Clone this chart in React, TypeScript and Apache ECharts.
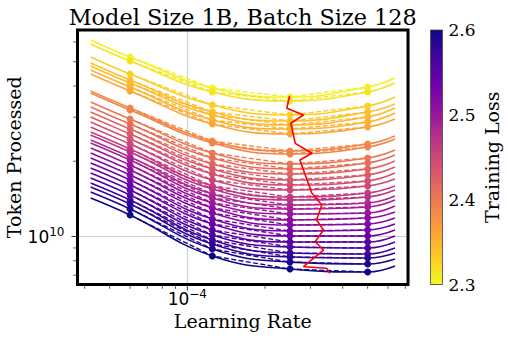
import React, { useEffect, useRef } from "react";
import * as echarts from "echarts";

// Learning-rate positions (x) of the fitted curve ends and of the measured dots
const LR_FIT_START = 4.22e-5;
const LR_DOTS = [6.0e-5, 1.25e-4, 2.5e-4, 5.0e-4];
const LR_FIT_END = 6.38e-4;

// Loss level of every iso-loss curve (colour)
const lossLevels = [
  2.305, 2.315, 2.33, 2.34, 2.345, 2.35, 2.36, 2.385, 2.39, 2.4, 2.41, 2.42, 2.43, 2.44, 2.45,
  2.46, 2.47, 2.48, 2.49, 2.5, 2.51, 2.52, 2.53, 2.54, 2.55, 2.56, 2.57, 2.58, 2.59, 2.6,
];

// Tokens processed (billions) for each curve at each learning rate
const tokensFitStart = [
  61.1, 58.89, 52.24, 49.43, 48.08, 46.34, 44.66, 38.2, 37.5, 34.52, 32.96, 31.47, 30.06, 28.71, 27.41,
  26.18, 25.47, 24.32, 23.66, 22.59, 21.58, 20.6, 19.68, 18.79, 17.95, 17.14, 16.37, 15.78, 15.07, 14.26,
];
const tokensLr6e5 = [
  52.24, 50.34, 44.66, 42.27, 41.12, 39.63, 38.2, 32.66, 32.06, 29.51, 28.18, 26.91, 25.71, 24.55, 23.44,
  22.39, 21.78, 20.8, 20.23, 19.32, 18.45, 17.62, 16.83, 16.07, 15.35, 14.66, 14.0, 13.49, 12.89, 12.19,
];
const tokensLr125e4 = [
  39.27, 37.85, 33.58, 31.47, 30.62, 29.24, 28.18, 24.1, 23.66, 21.58, 20.6, 19.5, 18.62, 17.78, 16.83,
  15.93, 15.49, 14.79, 14.26, 13.62, 13.01, 12.41, 11.74, 11.22, 10.62, 10.14, 9.68, 9.33, 8.91, 8.36,
];
const tokensLr25e4 = [
  36.14, 34.84, 30.62, 28.97, 27.92, 26.91, 25.71, 21.98, 21.38, 19.5, 18.62, 17.78, 16.83, 16.07, 15.35,
  14.39, 14.0, 13.37, 12.89, 12.3, 11.64, 11.12, 10.52, 10.05, 9.5, 9.08, 8.59, 8.28, 7.9, 7.41,
];
const tokensLr5e4 = [
  39.63, 37.85, 33.27, 31.47, 30.06, 28.71, 27.41, 23.44, 22.8, 20.6, 19.68, 18.62, 17.62, 16.68, 15.93,
  14.93, 14.39, 13.62, 13.13, 12.41, 11.85, 11.22, 10.62, 10.05, 9.5, 8.99, 8.51, 8.2, 7.76, 7.21,
];
const tokensFitEnd = [
  43.05, 41.12, 36.14, 33.89, 32.66, 31.19, 29.51, 25.24, 24.55, 22.18, 21.18, 20.04, 18.97, 17.95, 16.98,
  15.93, 15.35, 14.52, 14.0, 13.25, 12.53, 11.85, 11.22, 10.62, 10.05, 9.5, 8.99, 8.59, 8.13, 7.62,
];

// Red line through the optimum learning rate of each curve
const redLr = [
  2.49e-4, 2.43e-4, 2.82e-4, 2.52e-4, 2.62e-4, 3.04e-4, 2.73e-4, 2.82e-4, 3.04e-4, 3.32e-4, 3.17e-4,
  3.37e-4, 3.13e-4, 3.37e-4, 2.82e-4, 3.47e-4, 3.57e-4,
];
const redTokens = [
  36.48, 32.58, 30.62, 28.37, 23.59, 21.52, 20.23, 18.45, 14.89, 13.37, 11.64, 10.62, 9.53, 8.83, 7.57,
  7.46, 7.12,
];

// Axis ranges and ticks
const X_MIN = 3.753e-5;
const X_MAX = 7.166e-4;
const Y_MIN = 6.427e9;
const Y_MAX = 6.699e10;
const xMajorTicks = [1e-4];
const xMinorTicks = [4e-5, 5e-5, 6e-5, 7e-5, 8e-5, 9e-5, 2e-4, 3e-4, 4e-4, 5e-4, 6e-4, 7e-4];
const yMajorTicks = [1e10];
const yMinorTicks = [7e9, 8e9, 9e9, 2e10, 3e10, 4e10, 5e10, 6e10];
const CBAR_MIN = 2.3;
const CBAR_MAX = 2.6;

const PLASMA = [
  "#0d0887", "#41049d", "#6a00a8", "#8f0da4", "#b12a90", "#cc4778",
  "#e16462", "#f2844b", "#fca636", "#fcce25", "#f0f921",
];

function hexToRgb(h: string) {
  const n = parseInt(h.slice(1), 16);
  return [(n >> 16) & 255, (n >> 8) & 255, n & 255];
}
function plasmaColor(t: number) {
  const tt = Math.max(0, Math.min(1, t));
  const p = tt * 10;
  const i = Math.min(9, Math.floor(p));
  const f = p - i;
  const a = hexToRgb(PLASMA[i]);
  const b = hexToRgb(PLASMA[i + 1]);
  const c = a.map((v, k) => Math.round(v + (b[k] - v) * f));
  return `rgb(${c[0]},${c[1]},${c[2]})`;
}
function lossColor(l: number) {
  return plasmaColor((CBAR_MAX - l) / (CBAR_MAX - CBAR_MIN));
}

const SERIF = "DejaVu Serif";
const SANS = "DejaVu Sans";

const GRID = { left: 77.5, top: 30, width: 330.5, height: 254.5 };
const CBAR = { left: 430.5, top: 30, width: 12, height: 254.5 };

function buildOption() {
  const B = 1e9;
  const series: any[] = [];
  lossLevels.forEach((loss, i) => {
    const color = lossColor(loss);
    const dotsTokens = [tokensLr6e5[i], tokensLr125e4[i], tokensLr25e4[i], tokensLr5e4[i]];
    const fitData = [
      [LR_FIT_START, tokensFitStart[i] * B],
      ...LR_DOTS.map((lr, j) => [lr, dotsTokens[j] * B]),
      [LR_FIT_END, tokensFitEnd[i] * B],
    ];
    series.push({
      type: "line",
      data: fitData,
      smooth: 0.45,
      showSymbol: false,
      symbol: "none",
      lineStyle: { color, width: 1.6 },
      silent: true,
      z: 2,
    });
    series.push({
      type: "line",
      data: LR_DOTS.map((lr, j) => [lr, dotsTokens[j] * B]),
      symbol: "circle",
      symbolSize: 7,
      showSymbol: true,
      itemStyle: { color, borderWidth: 0 },
      lineStyle: { color, width: 1.4, type: [5, 2.4] },
      silent: true,
      z: 2,
    });
  });
  series.push({
    type: "line",
    data: redLr.map((lr, k) => [lr, redTokens[k] * B]),
    showSymbol: false,
    symbol: "none",
    lineStyle: { color: "#ff0000", width: 1.6 },
    silent: true,
    z: 3,
  });

  const xTickData = [
    ...xMajorTicks.map((v) => [v, 1e10, 1]),
    ...xMinorTicks.map((v) => [v, 1e10, 0]),
  ];
  const yTickData = [
    ...yMajorTicks.map((v) => [1e-4, v, 1]),
    ...yMinorTicks.map((v) => [1e-4, v, 0]),
  ];
  series.push({
    type: "custom",
    clip: false,
    silent: true,
    z: 4,
    data: xTickData,
    renderItem: (params: any, api: any) => {
      const p = api.coord([api.value(0), api.value(1)]);
      const cs = params.coordSys;
      const yb = cs.y + cs.height + 1.5;
      const major = api.value(2) === 1;
      return {
        type: "line",
        shape: { x1: p[0], y1: yb, x2: p[0], y2: yb + (major ? 4.5 : 2.8) },
        style: { stroke: "#333", lineWidth: major ? 1 : 0.8 },
      };
    },
  });
  series.push({
    type: "custom",
    clip: false,
    silent: true,
    z: 4,
    data: yTickData,
    renderItem: (params: any, api: any) => {
      const p = api.coord([api.value(0), api.value(1)]);
      const cs = params.coordSys;
      const xl = cs.x - 1.5;
      const major = api.value(2) === 1;
      return {
        type: "line",
        shape: { x1: xl, y1: p[1], x2: xl - (major ? 4.5 : 2.8), y2: p[1] },
        style: { stroke: "#333", lineWidth: major ? 1 : 0.8 },
      };
    },
  });

  const rich = {
    m: { fontFamily: SANS, fontSize: 17, lineHeight: 22, color: "#000" },
    s: { fontFamily: SANS, fontSize: 12, lineHeight: 12, verticalAlign: "top", color: "#000" },
  };

  return {
    animation: false,
    backgroundColor: "#ffffff",
    title: {
      text: "Model Size 1B, Batch Size 128",
      left: GRID.left + GRID.width / 2 - 5,
      top: 1,
      textAlign: "center",
      textStyle: { fontFamily: SERIF, fontSize: 22.4, fontWeight: "normal", color: "#000" },
    },
    grid: [
      { ...GRID, show: false, containLabel: false, outerBoundsMode: "none" },
      { ...CBAR, show: false, containLabel: false, outerBoundsMode: "none" },
    ],
    xAxis: [
      {
        type: "log",
        gridIndex: 0,
        logBase: 10,
        min: X_MIN,
        max: X_MAX,
        name: "Learning Rate",
        nameLocation: "middle",
        nameGap: 27,
        nameMoveOverlap: false,
        nameTextStyle: { fontFamily: SERIF, fontSize: 19, color: "#000" },
        axisLine: { show: false },
        axisTick: { show: false },
        splitLine: { show: true, lineStyle: { color: "#d0d0d0", width: 1.2 } },
        axisLabel: {
          showMinLabel: false,
          showMaxLabel: false,
          margin: 3,
          formatter: (v: number) => (Math.abs(Math.log10(v) + 4) < 1e-6 ? "{m|10}{s|\u22124}" : ""),
          rich,
        },
      },
      { type: "value", gridIndex: 1, show: false, min: 0, max: 1 },
    ],
    yAxis: [
      {
        type: "log",
        gridIndex: 0,
        logBase: 10,
        min: Y_MIN,
        max: Y_MAX,
        name: "Token Processed",
        nameLocation: "middle",
        nameGap: 54,
        nameMoveOverlap: false,
        nameTextStyle: { fontFamily: SERIF, fontSize: 19, color: "#000" },
        axisLine: { show: false },
        axisTick: { show: false },
        splitLine: { show: true, lineStyle: { color: "#d0d0d0", width: 1.2 } },
        axisLabel: {
          showMinLabel: false,
          showMaxLabel: false,
          margin: 13,
          formatter: (v: number) => (Math.abs(Math.log10(v) - 10) < 1e-6 ? "{m|10}{s|10}" : ""),
          rich,
        },
      },
      {
        type: "value",
        gridIndex: 1,
        position: "right",
        min: CBAR_MIN,
        max: CBAR_MAX,
        interval: 0.1,
        name: "Training Loss",
        nameLocation: "middle",
        nameRotate: 90,
        nameGap: 40,
        nameMoveOverlap: false,
        nameTextStyle: { fontFamily: SERIF, fontSize: 19, color: "#000" },
        axisLine: { show: false },
        axisTick: { show: true, length: 4, lineStyle: { color: "#333", width: 1 } },
        splitLine: { show: false },
        axisLabel: {
          margin: 6,
          fontFamily: SERIF,
          fontSize: 17,
          color: "#000",
          formatter: (v: number) => v.toFixed(1),
        },
      },
    ],
    graphic: [
      {
        type: "rect",
        shape: { x: CBAR.left, y: CBAR.top, width: CBAR.width, height: CBAR.height },
        style: {
          fill: {
            type: "linear",
            x: 0,
            y: 0,
            x2: 0,
            y2: 1,
            colorStops: PLASMA.map((c, k) => ({ offset: k / 10, color: c })),
          },
          stroke: "#444",
          lineWidth: 0.8,
        },
        z: 10,
        silent: true,
      },
      {
        type: "rect",
        shape: { x: GRID.left, y: GRID.top, width: GRID.width, height: GRID.height },
        style: { fill: "none", stroke: "#000", lineWidth: 3 },
        z: 100,
        silent: true,
      },
    ],
    series,
  };
}

export default function App() {
  const ref = useRef<HTMLDivElement>(null);
  useEffect(() => {
    document.body.style.margin = "0";
    if (!ref.current) return;
    const chart = echarts.init(ref.current, undefined, { renderer: "svg" });
    chart.setOption(buildOption() as any);
    return () => chart.dispose();
  }, []);
  return <div ref={ref} style={{ width: 508, height: 338 }} />;
}
